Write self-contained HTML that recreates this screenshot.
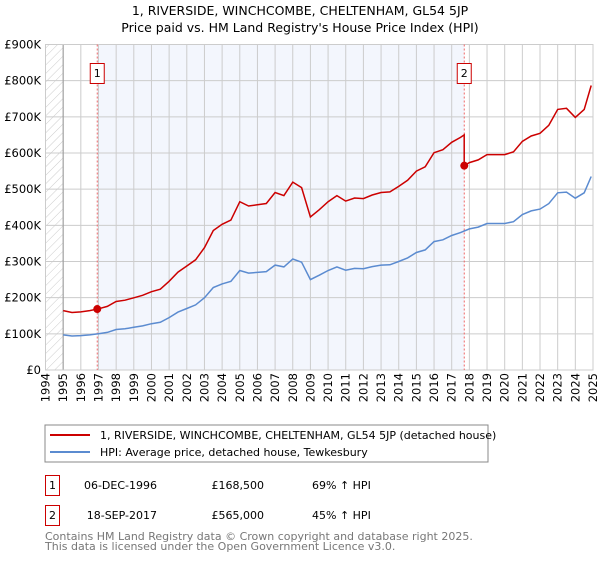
<!DOCTYPE html>
<html><head><meta charset="utf-8"><style>
body{margin:0;background:#fff;font-family:"DejaVu Sans","Liberation Sans",sans-serif;}
svg text{font-family:"DejaVu Sans","Liberation Sans",sans-serif;}
</style></head><body>
<svg id="c" width="600" height="560" xmlns="http://www.w3.org/2000/svg">
<defs><pattern id="hatch" width="6" height="6" patternUnits="userSpaceOnUse" patternTransform="rotate(45)"><line x1="0" y1="0" x2="0" y2="6" stroke="#ccc" stroke-width="1"/></pattern></defs>
<text x="300" y="15" text-anchor="middle" font-size="12.5" fill="#000">1, RIVERSIDE, WINCHCOMBE, CHELTENHAM, GL54 5JP</text>
<text x="300" y="32" text-anchor="middle" font-size="12.5" fill="#000">Price paid vs. HM Land Registry's House Price Index (HPI)</text>
<g id="plot"></g>
<rect x="45" y="425" width="443" height="37" fill="#fff" stroke="#888"/>
<line x1="50" y1="435" x2="90" y2="435" stroke="#cc0000" stroke-width="2"/>
<text x="100" y="439" font-size="11">1, RIVERSIDE, WINCHCOMBE, CHELTENHAM, GL54 5JP (detached house)</text>
<line x1="50" y1="452" x2="90" y2="452" stroke="#5b8bd0" stroke-width="2"/>
<text x="100" y="456" font-size="11">HPI: Average price, detached house, Tewkesbury</text>
<g font-size="11">
<rect x="45.5" y="475.5" width="14" height="20" fill="none" stroke="#cc0000"/>
<text x="52.5" y="489" text-anchor="middle">1</text>
<text x="157" y="489" text-anchor="end">06-DEC-1996</text>
<text x="264" y="489" text-anchor="end">£168,500</text>
<text x="312" y="489">69% ↑ HPI</text>
<rect x="45.5" y="505.5" width="14" height="20" fill="none" stroke="#cc0000"/>
<text x="52.5" y="519" text-anchor="middle">2</text>
<text x="157" y="519" text-anchor="end">18-SEP-2017</text>
<text x="264" y="519" text-anchor="end">£565,000</text>
<text x="312" y="519">45% ↑ HPI</text>
</g>
<text x="45" y="540" font-size="11" fill="#777">Contains HM Land Registry data © Crown copyright and database right 2025.</text>
<text x="45" y="550" font-size="11" fill="#777">This data is licensed under the Open Government Licence v3.0.</text>
</svg>
<script>
const hpiYears=[1995,1995.5,1996,1996.5,1997,1997.5,1998,1998.5,1999,1999.5,2000,2000.5,2001,2001.5,2002,2002.5,2003,2003.5,2004,2004.5,2005,2005.5,2006,2006.5,2007,2007.5,2008,2008.5,2009,2009.5,2010,2010.5,2011,2011.5,2012,2012.5,2013,2013.5,2014,2014.5,2015,2015.5,2016,2016.5,2017,2017.5,2018,2018.5,2019,2019.5,2020,2020.5,2021,2021.5,2022,2022.5,2023,2023.5,2024,2024.5,2024.9];
const hpiValues=[97,94,95,97,100,104,112,114,118,122,128,132,145,160,170,180,200,228,238,245,275,268,270,272,290,285,307,298,250,262,275,285,276,281,280,286,290,291,300,310,325,332,355,360,372,380,390,395,405,405,405,410,430,440,445,460,490,492,475,490,535];
const saleYears=[1996.93,2017.71];
const salePrices=[168500,565000];
const yTicks=[0,100000,200000,300000,400000,500000,600000,700000,800000,900000];
const yTickLabels=["£0","£100K","£200K","£300K","£400K","£500K","£600K","£700K","£800K","£900K"];
const xTicks=[1994,1995,1996,1997,1998,1999,2000,2001,2002,2003,2004,2005,2006,2007,2008,2009,2010,2011,2012,2013,2014,2015,2016,2017,2018,2019,2020,2021,2022,2023,2024,2025];

const X0=45.5,X1=593,Y0=370,Y1=44.5;
const xs=y=>X0+(y-1994)/31*(X1-X0);
const ys=v=>Y0-v/900000*(Y0-Y1);
const NS="http://www.w3.org/2000/svg";
const plot=document.getElementById('plot');
function mk(t,a,p){const e=document.createElementNS(NS,t);for(const k in a)e.setAttribute(k,a[k]);(p||plot).appendChild(e);return e;}
function hpiAt(y){for(let i=0;i<hpiYears.length-1;i++){if(y<=hpiYears[i+1]){const f=(y-hpiYears[i])/(hpiYears[i+1]-hpiYears[i]);return (hpiValues[i]+f*(hpiValues[i+1]-hpiValues[i]))*1000;}}return hpiValues[hpiValues.length-1]*1000;}

let r=mk('rect',{x:X0,y:Y1,width:xs(1995)-X0,height:Y0-Y1,fill:'url(#hatch)'});


r=mk('rect',{x:xs(saleYears[0]),y:Y1,width:xs(saleYears[1])-xs(saleYears[0]),height:Y0-Y1,fill:'#f3f6fd'});


xTicks.forEach(t=>{const l=mk('line',{x1:xs(t),x2:xs(t),y1:Y1,y2:Y0,stroke:'#ccc','stroke-width':1});


const tx=mk('text',{x:0,y:0,'font-size':11.5,'text-anchor':'end',transform:`translate(${xs(t)+4},${Y0+3}) rotate(-90)`});tx.textContent=t;

});
yTicks.forEach((t,i)=>{const l=mk('line',{x1:X0,x2:X1,y1:ys(t),y2:ys(t),stroke:'#ccc','stroke-width':1});


const tx=mk('text',{x:41,y:ys(t)+4,'font-size':11.5,'text-anchor':'end'});tx.textContent=yTickLabels[i];

});
let ax=mk('line',{x1:xs(1995),x2:xs(1995),y1:Y1,y2:Y0,stroke:'#999'});


r=mk('rect',{x:X0,y:Y1,width:X1-X0,height:Y0-Y1,fill:'none',stroke:'#ccc'});



saleYears.forEach((s,i)=>{const l=mk('line',{x1:xs(s),x2:xs(s),y1:Y1,y2:Y0,stroke:'#e66','stroke-dasharray':'2,2','stroke-width':1});


const b=mk('rect',{x:xs(s)-7,y:63.5,width:14,height:20,fill:'#fff',stroke:'#cc0000'});


const t=mk('text',{x:xs(s),y:77,'font-size':11,'text-anchor':'middle'});t.textContent=i+1;

});

const hp=hpiYears.map((y,i)=>`${xs(y).toFixed(1)},${ys(hpiValues[i]*1000).toFixed(1)}`).join(' ');
const hl=mk('polyline',{points:hp,fill:'none',stroke:'#5b8bd0','stroke-width':1.5});



const pts=[];
hpiYears.forEach((y,i)=>{
  if(i>0&&hpiYears[i-1]<saleYears[1]&&y>saleYears[1]){
    pts.push([saleYears[1],salePrices[0]*hpiAt(saleYears[1])/hpiAt(saleYears[0])]);
    pts.push([saleYears[1],salePrices[1]]);
  }
  const k=y<saleYears[1]?0:1;
  pts.push([y,salePrices[k]*hpiValues[i]*1000/hpiAt(saleYears[k])]);
});
const pl=mk('polyline',{points:pts.map(p=>`${xs(p[0]).toFixed(1)},${ys(p[1]).toFixed(1)}`).join(' '),fill:'none',stroke:'#cc0000','stroke-width':1.5});


saleYears.forEach((s,i)=>{const c=mk('circle',{cx:xs(s),cy:ys(salePrices[i]),r:4,fill:'#cc0000'});

});
</script>
</body></html>
